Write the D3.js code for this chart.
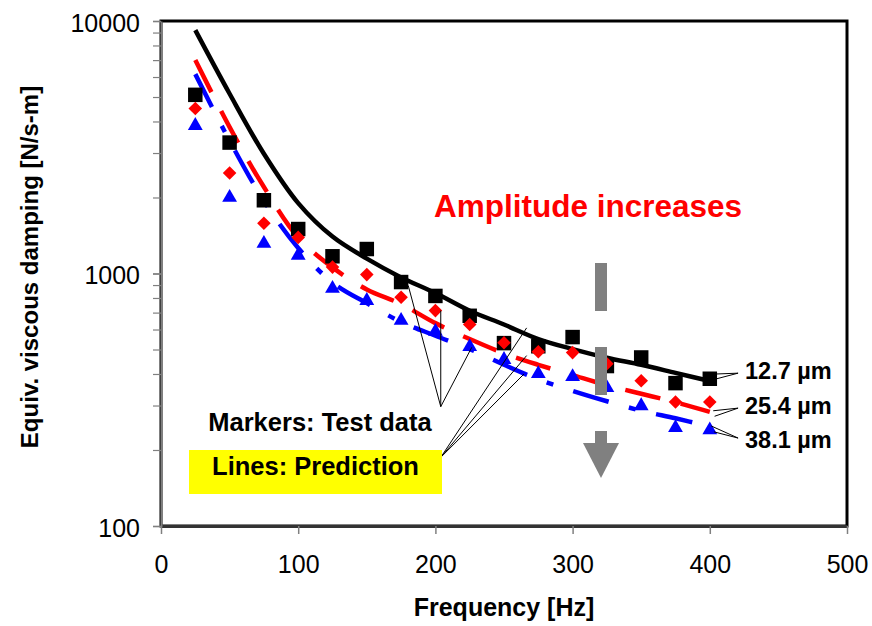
<!DOCTYPE html>
<html lang="en">
<head>
  <meta charset="UTF-8">
  <title>Equiv. viscous damping vs frequency</title>
  <style>
    body { margin: 0; background: #fff; font-family: "Liberation Sans", Arial, sans-serif; }
    svg { display: block; }
  </style>
  <script src="https://d3js.org/d3.v7.min.js"></script>
</head>
<body>
  <svg id="chart" width="872" height="626"></svg>
  <script>
    // frequency [Hz]
    const freq = [25, 50, 75, 100, 125, 150, 175, 200, 225, 250, 275, 300, 325, 350, 375, 400];

    // test data (markers)
    const test127 = [5100, 3300, 1950, 1500, 1170, 1250, 925, 815, 680, 530, 515, 560, 430, 465, 368, 383];
    const test254 = [4500, 2500, 1580, 1390, 1060, 990, 805, 713, 628, 532, 490, 486, 439, 376, 310, 310];
    const test381 = [3850, 2000, 1315, 1180, 872, 781, 651, 589, 513, 456, 401, 390, 353, 299, 245, 240];

    // prediction (lines)
    const pred127 = [9200, 5150, 2980, 1900, 1400, 1145, 965, 837, 712, 628, 550, 502, 464, 435, 404, 375];
    const pred254 = [7000, 3800, 2200, 1390, 1057, 865, 757, 636, 550, 483, 435, 396, 361, 334, 309, 283];
    const pred381 = [6160, 3355, 1940, 1262, 921, 763, 643, 567, 502, 435, 381, 343, 312, 286, 267, 248];

    const xTicks = [0, 100, 200, 300, 400, 500];
    const yTicks = [100, 1000, 10000];
    const ampLabels = ['12.7 µm', '25.4 µm', '38.1 µm'];

    const svg = d3.select('#chart');
    const x = d3.scaleLinear().domain([0, 500]).range([161, 847]);
    const y = d3.scaleLog().domain([100, 10000]).range([526, 21]);

    // frame
    svg.append('rect')
      .attr('x', 161).attr('y', 21)
      .attr('width', 686).attr('height', 505)
      .attr('fill', 'none').attr('stroke', '#000').attr('stroke-width', 3);

    // x axis
    const gx = svg.append('g')
      .attr('transform', 'translate(0,526)')
      .call(d3.axisBottom(x).tickValues(xTicks).tickSize(8).tickPadding(21).tickSizeOuter(0));
    gx.select('.domain').attr('stroke', '#333').attr('stroke-width', 3);
    gx.selectAll('.tick line').attr('stroke', '#808080').attr('stroke-width', 1.5);
    gx.selectAll('text').attr('font-size', 25).attr('font-family', '"Liberation Sans", Arial').attr('fill', '#000');

    // y axis: minor ticks then labelled decades
    const gyMinor = svg.append('g')
      .attr('transform', 'translate(161,0)')
      .call(d3.axisLeft(y).tickValues(y.ticks()).tickSize(8).tickFormat('').tickSizeOuter(0));
    gyMinor.select('.domain').attr('stroke', '#808080').attr('stroke-width', 2);
    gyMinor.selectAll('.tick line').attr('stroke', '#808080').attr('stroke-width', 1.2);

    const gy = svg.append('g')
      .attr('transform', 'translate(161,0)')
      .call(d3.axisLeft(y).tickValues(yTicks).tickSize(8).tickPadding(13).tickFormat(d3.format('d')).tickSizeOuter(0));
    gy.select('.domain').remove();
    gy.selectAll('.tick line').attr('stroke', '#808080').attr('stroke-width', 1.5);
    gy.selectAll('text').attr('font-size', 25).attr('dy', '0.4em')
      .attr('font-family', '"Liberation Sans", Arial').attr('fill', '#000');

    // axis titles
    svg.append('text')
      .attr('x', 504).attr('y', 616)
      .attr('text-anchor', 'middle')
      .attr('font-size', 25).attr('font-weight', 'bold')
      .text('Frequency [Hz]');

    svg.append('text')
      .attr('transform', 'translate(38,267) rotate(-90)')
      .attr('text-anchor', 'middle')
      .attr('font-size', 24).attr('font-weight', 'bold')
      .text('Equiv. viscous damping [N/s-m]');

    // prediction lines
    const line = d3.line()
      .x((d, i) => x(freq[i]))
      .y(d => y(d))
      .curve(d3.curveCatmullRom.alpha(0.5));

    svg.append('path').datum(pred127)
      .attr('d', line).attr('fill', 'none')
      .attr('stroke', '#000').attr('stroke-width', 4.5);
    svg.append('path').datum(pred254)
      .attr('d', line).attr('fill', 'none')
      .attr('stroke', '#ff0000').attr('stroke-width', 4.5)
      .attr('stroke-dasharray', '36,21');
    svg.append('path').datum(pred381)
      .attr('d', line).attr('fill', 'none')
      .attr('stroke', '#0000ff').attr('stroke-width', 4.5)
      .attr('stroke-dasharray', '37,21,7,21');

    // test data markers
    function markers(vals, type, size, color, rot) {
      svg.append('g').selectAll('path')
        .data(vals)
        .enter().append('path')
        .attr('d', d3.symbol().type(type).size(size))
        .attr('transform', (d, i) => `translate(${x(freq[i])},${y(d)}) rotate(${rot})`)
        .attr('fill', color);
    }
    markers(test127, d3.symbolSquare, 210, '#000', 0);
    markers(test254, d3.symbolSquare, 92, '#ff0000', 45);
    markers(test381, d3.symbolTriangle, 95, '#0000ff', 0);

    // leader lines for "Markers" and "Lines" notes
    function leaders(apex, targets) {
      svg.append('g').selectAll('line')
        .data(targets)
        .enter().append('line')
        .attr('x1', x(apex[0])).attr('y1', y(apex[1]))
        .attr('x2', d => x(d[0])).attr('y2', d => y(d[1]))
        .attr('stroke', '#000').attr('stroke-width', 1);
    }
    leaders([203.9, 297], [[180.2, 896], [203.9, 713], [226.5, 510]]);
    leaders([203.9, 187], [[266.5, 609], [266.5, 473], [264.6, 400]]);

    // right-hand callouts to the last points
    leaders([420.6, 403], [[405, 400], [403.5, 381]]);
    leaders([420.6, 293], [[402.5, 286], [403.5, 272]]);
    leaders([420.6, 223], [[401, 249], [403, 236]]);

    svg.append('g').selectAll('text')
      .data(ampLabels)
      .enter().append('text')
      .attr('x', 745)
      .attr('y', (d, i) => [379, 414, 448][i])
      .attr('font-size', 23.5).attr('font-weight', 'bold')
      .text(d => d);

    svg.append('text')
      .attr('x', 320).attr('y', 431)
      .attr('text-anchor', 'middle')
      .attr('font-size', 25.5).attr('font-weight', 'bold')
      .text('Markers: Test data');

    svg.append('rect')
      .attr('x', 189).attr('y', 450)
      .attr('width', 253).attr('height', 44)
      .attr('fill', '#ffff00');
    svg.append('text')
      .attr('x', 315.5).attr('y', 475)
      .attr('text-anchor', 'middle')
      .attr('font-size', 25.5).attr('font-weight', 'bold')
      .text('Lines: Prediction');

    // amplitude arrow
    svg.append('text')
      .attr('x', 588).attr('y', 217)
      .attr('text-anchor', 'middle')
      .attr('font-size', 31.5).attr('font-weight', 'bold')
      .attr('fill', '#ff0000')
      .text('Amplitude increases');

    const ax = x(320.7);
    svg.append('line')
      .attr('x1', ax).attr('x2', ax)
      .attr('y1', 263).attr('y2', 444)
      .attr('stroke', '#808080').attr('stroke-width', 12)
      .attr('stroke-dasharray', '48,36');
    svg.append('path')
      .attr('d', `M${ax - 18},443L${ax + 18},443L${ax},478Z`)
      .attr('fill', '#808080');
  </script>
</body>
</html>
